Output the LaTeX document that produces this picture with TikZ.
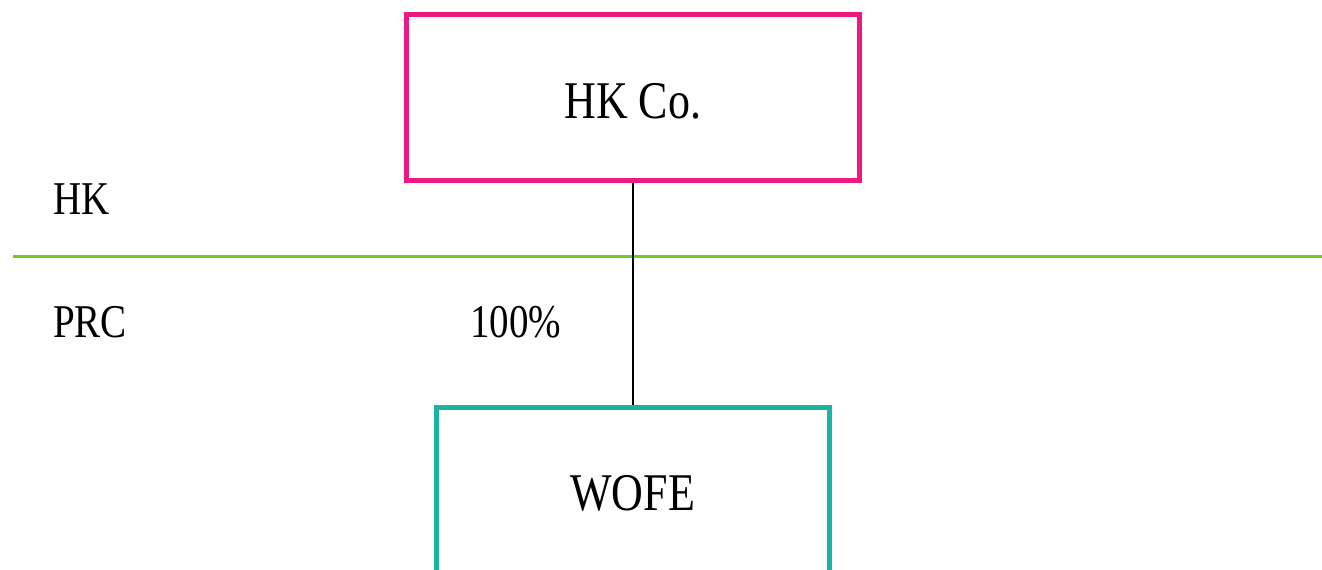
\documentclass[tikz,border=0pt]{standalone}
\usepackage{fontspec}
\setmainfont{Liberation Serif}[FakeStretch=0.83]
\definecolor{hkpink}{RGB}{236,26,128}
\definecolor{wteal}{RGB}{27,180,160}
\definecolor{lgreen}{RGB}{110,204,34}
\tikzset{
  entity/.style={draw, line width=5pt, inner sep=0pt, font=\fontsize{53}{60}\selectfont, text depth=0pt},
  region/.style={anchor=base west, inner sep=0pt, font=\fontsize{47}{54}\selectfont},
  link/.style={line width=2.5pt, black},
  border/.style={line width=3pt, lgreen}
}
\begin{document}
\begin{tikzpicture}[x=1pt,y=-1pt]
\useasboundingbox (0,0) rectangle (1322,570);
\coordinate (gl) at (13,256);
\coordinate (gr) at (1322,256);
\draw[border] (gl) -- (gr);
\node[entity, hkpink, text=black, minimum width=452.5pt, minimum height=165.5pt, text height=41.5pt] (hk) at (632.75,97.25) {HK Co.};
\node[entity, wteal, text=black, minimum width=392.5pt, minimum height=172pt, text height=34pt] (wofe) at (632.75,493) {WOFE};
\draw[link] (hk.south) -- (wofe.north);
\node[region] (lhk) at (53,214) {HK};
\node[region] (lprc) at (53,337) {PRC};
\node[region] (pct) at (470,337) {100\%};
\end{tikzpicture}
\end{document}
